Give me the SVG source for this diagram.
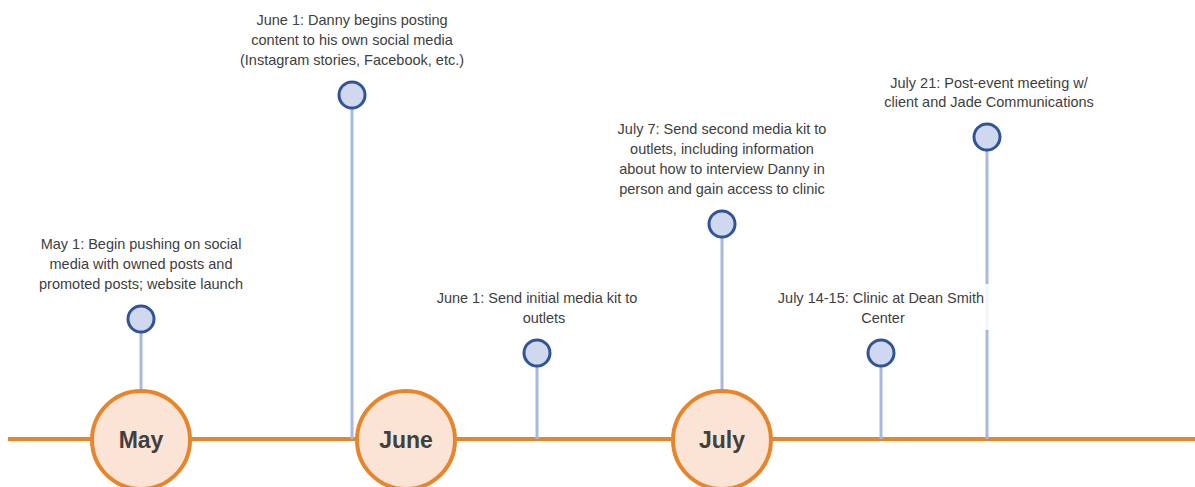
<svg xmlns="http://www.w3.org/2000/svg" width="1195" height="487" viewBox="0 0 1195 487">
<style>
.axis{stroke:#E8852B;stroke-width:4;fill:none}
.stem{stroke:#A9B8DE;stroke-width:3;fill:none}
.pin{fill:#CFD8EE;stroke:#2F5597;stroke-width:3}
.month{fill:#FBE4D5;stroke:#E8852B;stroke-width:4}
.mlabel{font-family:"Liberation Sans",Arial,sans-serif;font-weight:bold;font-size:23px;fill:#404040;text-anchor:middle}
.lbl{font-family:"Liberation Sans",Arial,sans-serif;font-size:14.5px;fill:#404040;text-anchor:middle}
</style>
<rect width="1195" height="487" fill="#ffffff"/>
<g id="connectors">
<line class="axis" x1="8" y1="439" x2="1195" y2="439"/>
<line class="stem" x1="141" y1="332" x2="141" y2="392"/>
<line class="stem" x1="352" y1="108" x2="352" y2="439"/>
<line class="stem" x1="537" y1="366" x2="537" y2="439"/>
<line class="stem" x1="722" y1="237" x2="722" y2="392"/>
<line class="stem" x1="881" y1="366" x2="881" y2="439"/>
<line class="stem" x1="987" y1="150" x2="987" y2="439"/>
</g>
<g id="month-may"><circle class="month" cx="141" cy="440" r="49"/><text class="mlabel" x="141" y="448">May</text></g>
<g id="month-june"><circle class="month" cx="406" cy="440" r="49"/><text class="mlabel" x="406" y="448">June</text></g>
<g id="month-july"><circle class="month" cx="722" cy="440" r="49"/><text class="mlabel" x="722" y="448">July</text></g>
<g id="event-may1">
<circle class="pin" cx="141" cy="319" r="13"/>
<text class="lbl" x="141" y="249">May 1: Begin pushing on social</text>
<text class="lbl" x="141" y="269">media with owned posts and</text>
<text class="lbl" x="141" y="289">promoted posts; website launch</text>
</g>
<g id="event-june1-danny">
<circle class="pin" cx="352" cy="95" r="13"/>
<text class="lbl" x="352" y="25">June 1: Danny begins posting</text>
<text class="lbl" x="352" y="45">content to his own social media</text>
<text class="lbl" x="352" y="65">(Instagram stories, Facebook, etc.)</text>
</g>
<g id="event-june1-kit">
<circle class="pin" cx="537" cy="353" r="13"/>
<text class="lbl" x="537" y="303">June 1: Send initial media kit to</text>
<text class="lbl" x="544" y="323">outlets</text>
</g>
<g id="event-july7">
<circle class="pin" cx="722" cy="224" r="13"/>
<text class="lbl" x="722" y="134">July 7: Send second media kit to</text>
<text class="lbl" x="722" y="154">outlets, including information</text>
<text class="lbl" x="722" y="174">about how to interview Danny in</text>
<text class="lbl" x="722" y="194">person and gain access to clinic</text>
</g>
<g id="event-july14">
<rect x="775" y="284" width="216" height="46" fill="#ffffff" opacity="0.85"/>
<circle class="pin" cx="881" cy="353" r="13"/>
<text class="lbl" x="881" y="303">July 14-15: Clinic at Dean Smith</text>
<text class="lbl" x="883" y="323">Center</text>
</g>
<g id="event-july21">
<circle class="pin" cx="987" cy="137" r="13"/>
<text class="lbl" x="989" y="88">July 21: Post-event meeting w/</text>
<text class="lbl" x="989" y="107">client and Jade Communications</text>
</g>
</svg>
